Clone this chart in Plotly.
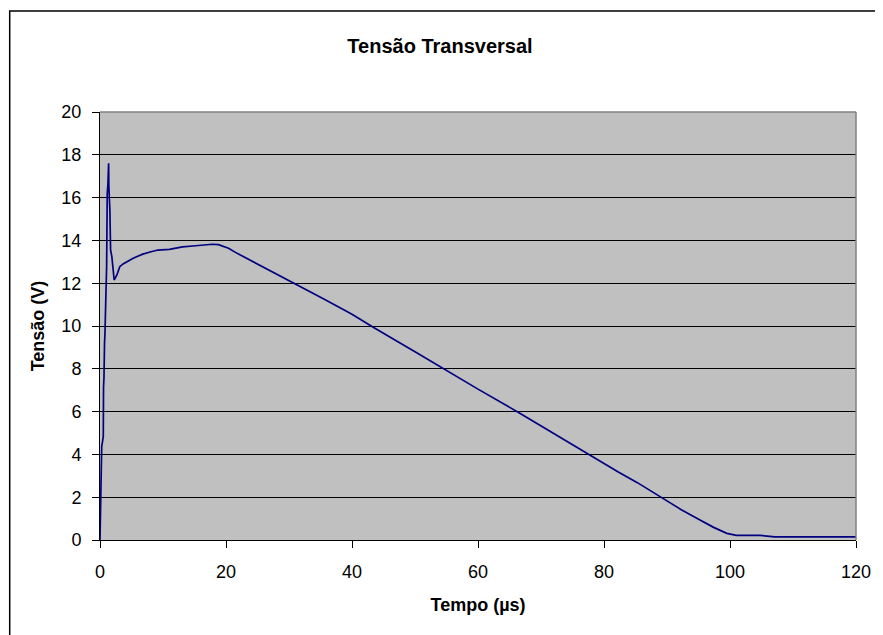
import plotly.graph_objects as go

# Time (µs) and voltage (V)
tempo = [0, 0.05, 0.15, 0.27, 0.40, 0.52, 0.56, 0.63, 0.72, 0.79, 0.94, 1.05,
         1.15, 1.25, 1.37, 1.40, 1.57, 1.68, 1.88, 2.0, 2.25, 2.7, 3.14, 3.66,
         4.2, 5.2, 5.8, 6.8, 8.1, 9.2, 11.0, 13.1, 15.2, 17.8, 18.8, 20.4,
         21.5, 25.0, 30.9, 34.6, 35.6, 40.0, 43.5, 50.0, 54.5, 60.0, 66.5,
         70.0, 73.6, 78.5, 82.2, 85.3, 89.0, 92.2, 94.8, 97.4, 99.5, 101.0,
         104.7, 107.1, 115.0, 120.0]
tensao = [0, 1.2, 2.5, 4.36, 4.6, 4.83, 7.16, 7.57, 9.2, 9.67, 11.5, 12.77,
          16.2, 16.6, 17.6, 16.6, 15.4, 13.55, 13.24, 12.77, 12.15, 12.4, 12.77, 12.9,
          13.0, 13.15, 13.24, 13.36, 13.47, 13.55, 13.58, 13.7, 13.75, 13.82, 13.8, 13.63,
          13.44, 12.9, 12.0, 11.42, 11.25, 10.55, 9.92, 8.8, 8.0, 7.05, 5.95,
          5.33, 4.7, 3.86, 3.19, 2.68, 1.99, 1.43, 1.01, 0.59, 0.31, 0.22,
          0.22, 0.15, 0.15, 0.15]

x_ticks = [0, 20, 40, 60, 80, 100, 120]
y_ticks = [0, 2, 4, 6, 8, 10, 12, 14, 16, 18, 20]

titulo = "Tensão Transversal"
x_titulo = "Tempo (µs)"
y_titulo = "Tensão (V)"

font_family = "Liberation Sans, Arial, sans-serif"

# figure is placed 8px from the page corner (body margin)
W, H = 875, 627
L, T = 92, 104
PW, PH = 764, 428

fig = go.Figure()
fig.add_trace(go.Scatter(
    x=tempo, y=tensao, mode="lines",
    line=dict(color="#000080", width=1.7),
    showlegend=False, hoverinfo="skip",
))

fig.update_layout(
    width=W, height=H,
    margin=dict(l=L, r=W - L - PW, t=T, b=H - T - PH, pad=0),
    paper_bgcolor="white",
    plot_bgcolor="#C0C0C0",
    font=dict(family=font_family, size=18, color="black"),
    title=dict(text=f"<b>{titulo}</b>", x=432 / W, xref="container", xanchor="center",
               y=1 - 38 / H, yref="container", yanchor="middle",
               font=dict(size=20, family=font_family)),
    xaxis=dict(
        range=[0, 120], tickvals=x_ticks, ticktext=[str(v) for v in x_ticks],
        showgrid=False, zeroline=False,
        showline=True, linecolor="black", linewidth=1,
        ticks="outside", ticklen=7, tickcolor="black", tickwidth=1,
        ticklabelstandoff=8,
        tickfont=dict(size=18),
        title=dict(text=f"<b>{x_titulo}</b>", font=dict(size=18), standoff=17),
    ),
    yaxis=dict(
        range=[0, 20], tickvals=y_ticks, ticktext=[str(v) for v in y_ticks],
        showgrid=True, gridcolor="black", gridwidth=1,
        zeroline=False,
        showline=True, linecolor="black", linewidth=1,
        ticks="outside", ticklen=7, tickcolor="black", tickwidth=1,
        ticklabelstandoff=7,
        tickfont=dict(size=18),
        title=dict(text=f"<b>{y_titulo}</b>", font=dict(size=18), standoff=12),
    ),
    shapes=[
        # plot-area border (gray) on top and right
        dict(type="line", xref="paper", yref="paper", x0=0, x1=1, y0=1, y1=1,
             line=dict(color="#808080", width=1.5), layer="above"),
        dict(type="line", xref="paper", yref="paper", x0=1, x1=1, y0=0, y1=1,
             line=dict(color="#808080", width=1.5), layer="above"),
        # outer chart border
        dict(type="rect", xref="paper", yref="paper",
             x0=(0.75 - L) / PW, x1=(W + 20 - L) / PW,
             y0=(T + PH - (H + 20)) / PH, y1=(T + PH - 3) / PH,
             line=dict(color="black", width=1.5), fillcolor="rgba(0,0,0,0)",
             layer="below"),
    ],
)

fig.write_html("out.html")
